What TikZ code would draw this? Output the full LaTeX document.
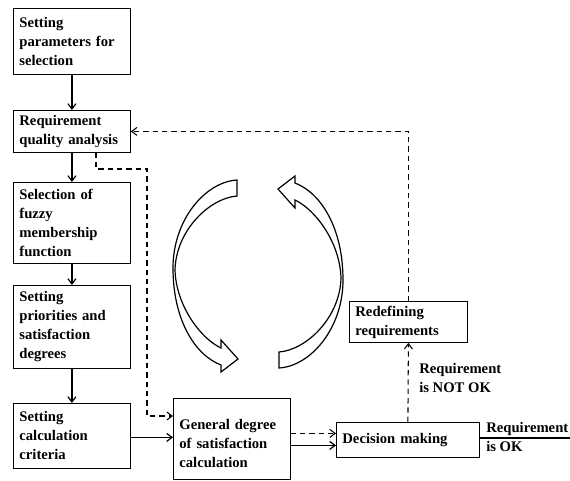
\documentclass[tikz,border=0pt]{standalone}
\usepackage{fontspec}
\setmainfont{Liberation Serif}
\usetikzlibrary{arrows.meta,calc}
\begin{document}
\begin{tikzpicture}[x=0.75pt,y=-0.75pt,
  every node/.style={font=\fontsize{11}{14.25}\selectfont\bfseries},
  box/.style={draw,line width=0.6pt,anchor=north west,inner xsep=4.5pt,inner ysep=0pt,align=left},
  conn/.style={line width=0.9pt,-{Straight Barb[length=4pt,width=6pt]}},
  dconn/.style={conn,line width=0.8pt,dash pattern=on 4pt off 3pt},
  cyc/.style={draw,line width=0.9pt,line join=miter}]
\useasboundingbox (0,0) rectangle (570,480);
% boxes
\node[box,text width=78.75pt,minimum height=49.5pt] (b1) at (13,8) {Setting\\parameters for\\selection};
\node[box,text width=78.75pt,minimum height=31.5pt] (b2) at (13,110) {Requirement\\quality analysis};
\node[box,text width=78.75pt,minimum height=60.75pt] (b3) at (13,182) {Selection of\\fuzzy\\membership\\function};
\node[box,text width=78.75pt,minimum height=62.25pt] (b4) at (13,285) {Setting\\priorities and\\satisfaction\\degrees};
\node[box,text width=78.75pt,minimum height=48.75pt] (b5) at (13,403) {Setting\\calculation\\criteria};
\node[box,text width=78.75pt,minimum height=60.75pt] (gen) at (173,398) {\rule{0pt}{14pt}General degree\\of satisfaction\\calculation};
\node[box,text width=98.25pt,minimum height=26.25pt] (dec) at (336,422) {Decision making};
\node[box,text width=79.5pt,minimum height=30.75pt] (red) at (349,301) {Redefining\\requirements};
% labels
\node[anchor=west,align=left,inner sep=0pt] (lnot) at (419,378) {Requirement\\is NOT OK};
\node[anchor=west,align=left,inner sep=0pt] (lok) at (486,437) {Requirement\\is OK};
% coordinates
\coordinate (d1) at (96,169);
\coordinate (d2) at (147,416);
\coordinate (out) at (570,438);
% solid arrows
\draw[conn] (b1.south) -- (b2.north);
\draw[conn] (b2.south) -- (b3.north);
\draw[conn] (b3.south) -- (b4.north);
\draw[conn] (b4.south) -- (b5.north);
\draw[conn] ($(b5.east)+(0,1.5)$) -- ($(b5.east -| gen.west)+(0,1.5)$);
\draw[conn] ($(gen.east)+(0,6.5)$) -- ($(gen.east -| dec.west)+(0,6.5)$);
\draw[line width=0.9pt] (dec.east |- out) -- (out);
% dashed arrows
\draw[dconn] (d1 |- b2.south) -- (d1) -| (d2) -- (d2 -| gen.west);
\draw[dconn] ($(gen.east)+(0,-5.5)$) -- ($(gen.east -| dec.west)+(0,-5.5)$);
\draw[dconn] (dec.north) -- (red.south);
\draw[dconn] (red.north) |- (b2.east);
% cycle arrows
\draw[cyc] (237,180) .. controls (205,182) and (173,220) .. (173,268)
  .. controls (173,320) and (195,355) .. (221,365) -- (221,372) -- (238,359)
  -- (221,340) -- (221,348) .. controls (200,338) and (176,305) .. (175,270)
  .. controls (176,230) and (210,198) .. (237,196) -- cycle;
\begin{scope}[rotate around={180:(258,274)}]
\draw[cyc] (237,180) .. controls (205,182) and (173,220) .. (173,268)
  .. controls (173,320) and (195,355) .. (221,365) -- (221,372) -- (238,359)
  -- (221,340) -- (221,348) .. controls (200,338) and (176,305) .. (175,270)
  .. controls (176,230) and (210,198) .. (237,196) -- cycle;
\end{scope}
\end{tikzpicture}
\end{document}
